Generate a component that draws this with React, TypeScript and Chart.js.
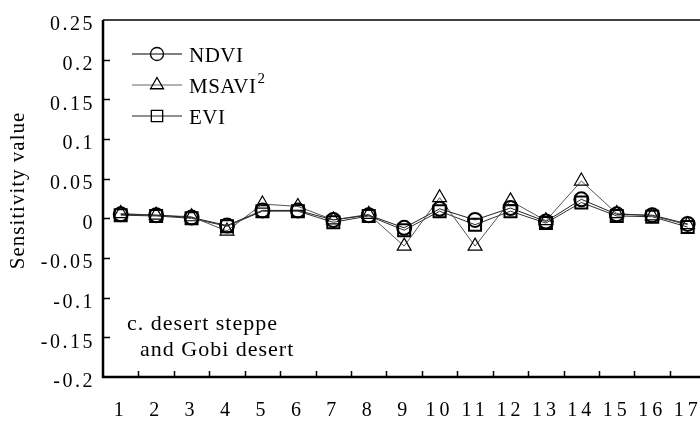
import React, { useEffect, useRef } from 'react';
import { Chart, registerables } from 'chart.js';

Chart.register(...registerables);

const categories = ['1', '2', '3', '4', '5', '6', '7', '8', '9', '10', '11', '12', '13', '14', '15', '16', '17'];
const ndvi = [0.005, 0.004, 0.001, -0.009, 0.010, 0.010, -0.002, 0.004, -0.012, 0.012, -0.002, 0.013, -0.004, 0.024, 0.005, 0.004, -0.007];
const msavi2 = [0.006, 0.004, 0.002, -0.016, 0.018, 0.015, -0.002, 0.005, -0.035, 0.026, -0.035, 0.022, -0.003, 0.047, 0.006, 0.003, -0.008];
const evi = [0.004, 0.003, 0.000, -0.010, 0.009, 0.009, -0.005, 0.003, -0.015, 0.009, -0.008, 0.009, -0.006, 0.020, 0.003, 0.002, -0.011];

const yMin = -0.2;
const yMax = 0.25;
const yStep = 0.05;

const seriesNames = ['NDVI', 'MSAVI', 'EVI'];
const msaviSuperscript = '2';
const yTitle = 'Sensitivity value';
const panelNote = ['c. desert steppe', 'and Gobi desert'];

const SERIF = "'Liberation Serif', 'Times New Roman', serif";

function patchSpacing(scale: any, spacing: string) {
  if (scale._spacingPatched) return;
  scale._spacingPatched = true;
  const orig = scale.drawLabels;
  scale.drawLabels = function (ca: any) {
    const ctx = this.ctx;
    ctx.save();
    ctx.letterSpacing = spacing;
    orig.call(this, ca);
    ctx.restore();
  };
}

function drawMarker(ctx: CanvasRenderingContext2D, style: string, x: number, y: number, r: number) {
  ctx.beginPath();
  if (style === 'circle') {
    ctx.arc(x, y, r, 0, Math.PI * 2);
  } else if (style === 'triangle') {
    ctx.moveTo(x, y - r);
    ctx.lineTo(x + r * Math.sin(Math.PI / 3), y + r / 2);
    ctx.lineTo(x - r * Math.sin(Math.PI / 3), y + r / 2);
    ctx.closePath();
  } else {
    const s = r * Math.SQRT1_2;
    ctx.rect(x - s, y - s, 2 * s, 2 * s);
  }
  ctx.stroke();
}

const decorPlugin = {
  id: 'decor',
  afterDraw(chart: any) {
    const { ctx, chartArea: a, scales } = chart;
    const x = scales.x;
    const y = scales.y;
    ctx.save();
    ctx.strokeStyle = '#000';
    ctx.lineCap = 'butt';
    // frame
    ctx.lineWidth = 1.5;
    ctx.beginPath();
    ctx.moveTo(a.left, a.top);
    ctx.lineTo(a.right, a.top);
    ctx.stroke();
    ctx.lineWidth = 2.5;
    ctx.beginPath();
    ctx.moveTo(a.left, a.top);
    ctx.lineTo(a.left, a.bottom);
    ctx.lineTo(a.right, a.bottom);
    ctx.stroke();
    // inward y ticks
    ctx.lineWidth = 1.5;
    for (const t of y.ticks) {
      if (t.value <= yMin + 1e-9 || t.value >= yMax - 1e-9) continue;
      const py = Math.round(y.getPixelForValue(t.value)) + 0.5;
      ctx.beginPath();
      ctx.moveTo(a.left, py);
      ctx.lineTo(a.left + 7, py);
      ctx.stroke();
    }
    // inward x ticks at category boundaries
    for (let i = 1; i < categories.length; i++) {
      const px = Math.round(x.getPixelForValue(i - 0.5)) + 0.5;
      ctx.beginPath();
      ctx.moveTo(px, a.bottom);
      ctx.lineTo(px, a.bottom - 6);
      ctx.stroke();
    }

    // legend
    const rows = [
      { name: seriesNames[0], style: 'circle', color: '#000', r: 6.5, dy: 34 },
      { name: seriesNames[1], style: 'triangle', color: '#666', r: 7.5, dy: 65 },
      { name: seriesNames[2], style: 'rect', color: '#222', r: 8, dy: 96 },
    ];
    ctx.letterSpacing = '0.5px';
    ctx.font = `21px ${SERIF}`;
    ctx.textBaseline = 'middle';
    ctx.textAlign = 'left';
    ctx.fillStyle = '#000';
    for (const row of rows) {
      const ly = a.top + row.dy;
      ctx.strokeStyle = row.color;
      ctx.lineWidth = 1;
      ctx.beginPath();
      ctx.moveTo(a.left + 29, ly);
      ctx.lineTo(a.left + 79, ly);
      ctx.stroke();
      ctx.strokeStyle = '#000';
      ctx.lineWidth = 1.3;
      drawMarker(ctx, row.style, a.left + 54, ly, row.r);
      ctx.fillStyle = '#000';
      ctx.fillText(row.name, a.left + 86, ly + 2);
      if (row.name === seriesNames[1]) {
        const w = ctx.measureText(row.name).width;
        ctx.font = `15px ${SERIF}`;
        ctx.fillText(msaviSuperscript, a.left + 86 + w + 1, ly - 6);
        ctx.font = `21px ${SERIF}`;
      }
    }

    // panel note
    ctx.letterSpacing = '1px';
    ctx.font = `22px ${SERIF}`;
    ctx.textBaseline = 'alphabetic';
    ctx.fillText(panelNote[0], a.left + 24, a.top + 310);
    ctx.fillText(panelNote[1], a.left + 37, a.top + 336);

    // y title
    ctx.font = `21px ${SERIF}`;
    ctx.letterSpacing = '1px';
    ctx.textBaseline = 'middle';
    ctx.translate(18, (a.top + a.bottom) / 2 - 8);
    ctx.rotate(-Math.PI / 2);
    ctx.textAlign = 'center';
    ctx.fillText(yTitle, 0, 0);
    ctx.restore();
  },
};

export default function App() {
  const ref = useRef<HTMLCanvasElement>(null);

  useEffect(() => {
    if (!ref.current) return;
    const pointStyles = ['circle', 'triangle', 'rect'];
    const radii = [7, 8, 8.5];
    const lineColors = ['#222', '#555', '#333'];
    const values = [ndvi, msavi2, evi];
    const chart = new Chart(ref.current, {
      type: 'line',
      data: {
        labels: categories,
        datasets: values.map((d, i) => ({
          label: seriesNames[i],
          data: d,
          borderColor: lineColors[i],
          borderWidth: 1,
          pointStyle: pointStyles[i],
          pointRadius: radii[i],
          pointBorderColor: '#000',
          pointBorderWidth: i === 1 ? 1.2 : 2,
          pointBackgroundColor: 'rgba(255,255,255,0)',
          tension: 0,
          fill: false,
        })),
      },
      options: {
        animation: false,
        responsive: false,
        events: [],
        layout: { padding: { left: 0, top: 13, right: 12, bottom: 0 } },
        plugins: { legend: { display: false }, tooltip: { enabled: false } },
        scales: {
          x: {
            type: 'category',
            offset: true,
            grid: { display: false, drawTicks: false },
            border: { display: false },
            ticks: {
              color: '#000',
              font: { family: SERIF, size: 20 },
              padding: 22,
              maxRotation: 0,
              autoSkip: false,
            },
            afterFit(scale: any) {
              scale.height = 46;
              patchSpacing(scale, '4px');
            },
          },
          y: {
            min: yMin,
            max: yMax,
            grid: { display: false, drawTicks: false },
            border: { display: false },
            ticks: {
              stepSize: yStep,
              color: '#000',
              font: { family: SERIF, size: 20 },
              padding: 8,
              labelOffset: 5,
              callback: (v: any) => String(Number(Number(v).toFixed(2))),
            },
            afterFit(scale: any) {
              scale.width = 103;
              patchSpacing(scale, '2.5px');
            },
          },
        },
      },
      plugins: [decorPlugin],
    } as any);
    return () => chart.destroy();
  }, []);

  return (
    <div style={{ position: 'fixed', left: 0, top: 0, width: 700, height: 423, overflow: 'hidden', background: '#fff' }}>
      <canvas ref={ref} width={720} height={423} style={{ width: 720, height: 423, display: 'block' }} />
    </div>
  );
}
